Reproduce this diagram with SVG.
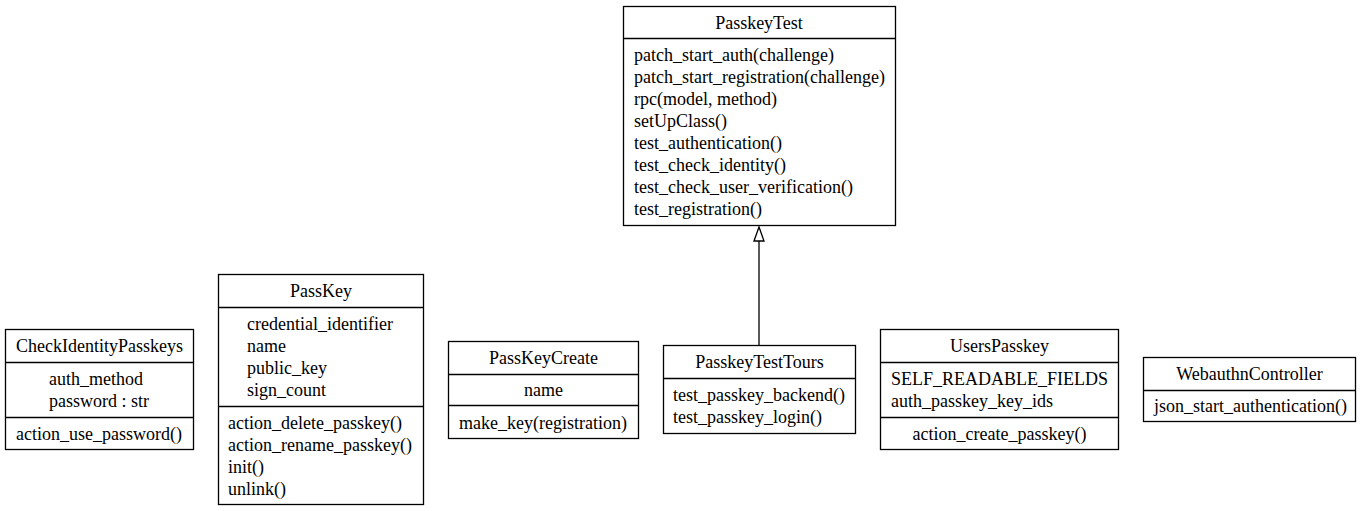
<svg xmlns="http://www.w3.org/2000/svg" width="1363" height="511" viewBox="0 0 1363 511">
<style>
rect.box{fill:#fff;stroke:#000;stroke-width:1.3}
line.sep{stroke:#000;stroke-width:1.3}
text{font-family:"Liberation Serif","Times New Roman",serif;font-size:18px;fill:#000}
text.c{text-anchor:middle}
.edge{stroke:#000;stroke-width:1.3;fill:none}
</style>
<defs>
<marker id="inh" markerWidth="16" markerHeight="12" refX="0" refY="5" orient="auto" markerUnits="userSpaceOnUse" viewBox="0 -1 16 12" overflow="visible">
<path d="M0,0 L14,5 L0,10 Z" fill="#fff" stroke="#000" stroke-width="1.3"/>
</marker>
</defs>
<rect width="1363" height="511" fill="#fff"/>
<g id="connectors">
<line class="edge" x1="759" y1="345" x2="759" y2="241" marker-end="url(#inh)"/>
</g>
<g id="PasskeyTest">
<rect class="box" x="623.5" y="6.5" width="272" height="219"/>
<line class="sep" x1="623.5" y1="38.5" x2="895.5" y2="38.5"/>
<text class="c" x="759" y="29">PasskeyTest</text>
<text x="634" y="61">patch_start_auth(challenge)</text>
<text x="634" y="83">patch_start_registration(challenge)</text>
<text x="634" y="105">rpc(model, method)</text>
<text x="634" y="127">setUpClass()</text>
<text x="634" y="149">test_authentication()</text>
<text x="634" y="171">test_check_identity()</text>
<text x="634" y="193">test_check_user_verification()</text>
<text x="634" y="215">test_registration()</text>
</g>
<g id="CheckIdentityPasskeys">
<rect class="box" x="5.5" y="329.5" width="188" height="120"/>
<line class="sep" x1="5.5" y1="362.5" x2="193.5" y2="362.5"/>
<line class="sep" x1="5.5" y1="417.5" x2="193.5" y2="417.5"/>
<text class="c" x="99.5" y="352">CheckIdentityPasskeys</text>
<text x="49" y="385">auth_method</text>
<text x="49" y="407">password : str</text>
<text x="16" y="440">action_use_password()</text>
</g>
<g id="PassKey">
<rect class="box" x="218.5" y="274.5" width="205" height="230"/>
<line class="sep" x1="218.5" y1="307.5" x2="423.5" y2="307.5"/>
<line class="sep" x1="218.5" y1="406.5" x2="423.5" y2="406.5"/>
<text class="c" x="321" y="297">PassKey</text>
<text x="247" y="330">credential_identifier</text>
<text x="247" y="352">name</text>
<text x="247" y="374">public_key</text>
<text x="247" y="396">sign_count</text>
<text x="228" y="429">action_delete_passkey()</text>
<text x="228" y="451">action_rename_passkey()</text>
<text x="228" y="473">init()</text>
<text x="228" y="495">unlink()</text>
</g>
<g id="PassKeyCreate">
<rect class="box" x="448.5" y="341.5" width="190" height="97"/>
<line class="sep" x1="448.5" y1="374.5" x2="638.5" y2="374.5"/>
<line class="sep" x1="448.5" y1="405.5" x2="638.5" y2="405.5"/>
<text class="c" x="543.5" y="364">PassKeyCreate</text>
<text class="c" x="543.5" y="396">name</text>
<text x="459" y="429">make_key(registration)</text>
</g>
<g id="PasskeyTestTours">
<rect class="box" x="663.5" y="345.5" width="192" height="88"/>
<line class="sep" x1="663.5" y1="378.5" x2="855.5" y2="378.5"/>
<text class="c" x="759.5" y="368">PasskeyTestTours</text>
<text x="673" y="401">test_passkey_backend()</text>
<text x="673" y="423">test_passkey_login()</text>
</g>
<g id="UsersPasskey">
<rect class="box" x="880.5" y="329.5" width="238" height="120"/>
<line class="sep" x1="880.5" y1="362.5" x2="1118.5" y2="362.5"/>
<line class="sep" x1="880.5" y1="417.5" x2="1118.5" y2="417.5"/>
<text class="c" x="999.5" y="352">UsersPasskey</text>
<text x="891" y="385">SELF_READABLE_FIELDS</text>
<text x="891" y="407">auth_passkey_key_ids</text>
<text class="c" x="999.5" y="440">action_create_passkey()</text>
</g>
<g id="WebauthnController">
<rect class="box" x="1143.5" y="357.5" width="212" height="64"/>
<line class="sep" x1="1143.5" y1="390.5" x2="1355.5" y2="390.5"/>
<text class="c" x="1249.5" y="380">WebauthnController</text>
<text x="1154" y="412">json_start_authentication()</text>
</g>
</svg>
